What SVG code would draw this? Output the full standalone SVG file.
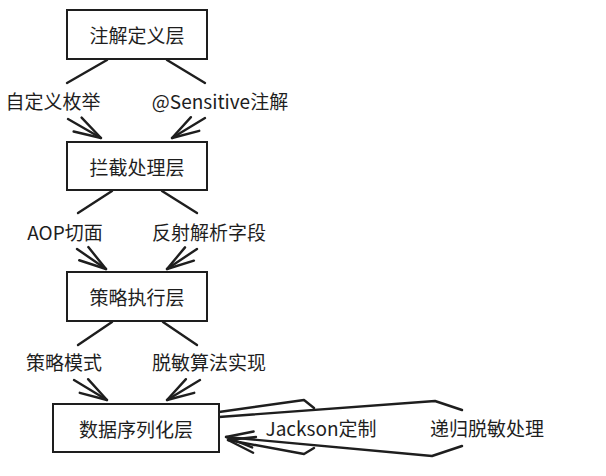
<svg xmlns="http://www.w3.org/2000/svg" width="606" height="476" viewBox="0 0 606 476">
<style>
  .box { fill: #ffffff; stroke: #1e1e1e; stroke-width: 2; }
  .t { font-family: "Noto Sans CJK SC", "Noto Sans", sans-serif; font-size: 19px; fill: #1e1e1e; text-anchor: middle; dominant-baseline: central; }
  .c { fill: none; stroke: #1e1e1e; stroke-width: 2.4; stroke-linecap: round; stroke-linejoin: round; }
</style>
<defs>
  <marker id="ah" viewBox="-32 -14 36 28" refX="0" refY="0" markerWidth="36" markerHeight="28" markerUnits="userSpaceOnUse" orient="auto">
    <path d="M-27,-8 L0,0 L-27,8" fill="none" stroke="#1e1e1e" stroke-width="2.4" stroke-linecap="round" stroke-linejoin="round"/>
  </marker>
</defs>
<rect width="606" height="476" fill="#ffffff"/>
<g id="connectors">
  <path class="c" d="M107,60 L67,83"/>
  <path class="c" d="M68,119 L101,138" marker-end="url(#ah)"/>
  <path class="c" d="M167,60 L205,83"/>
  <path class="c" d="M205,118 L172,138" marker-end="url(#ah)"/>
  <path class="c" d="M112,191 L78,213"/>
  <path class="c" d="M77,249 L106,269" marker-end="url(#ah)"/>
  <path class="c" d="M162,191 L197,213"/>
  <path class="c" d="M197,249 L167,269" marker-end="url(#ah)"/>
  <path class="c" d="M112,322 L78,345"/>
  <path class="c" d="M74,380 L107,400" marker-end="url(#ah)"/>
  <path class="c" d="M163,322 L197,345"/>
  <path class="c" d="M200,380 L167,400" marker-end="url(#ah)"/>
  <path class="c" d="M219,412 L304,400 L314,408"/>
  <path class="c" d="M314,448 L304,454 L228,440" marker-end="url(#ah)"/>
  <path class="c" d="M219,417 L435,401 L462,410"/>
  <path class="c" d="M462,446 L432,456 L226,437" marker-end="url(#ah)"/>
  <text class="t" x="53" y="100">自定义枚举</text>
  <text class="t" x="220" y="100">@Sensitive注解</text>
  <text class="t" x="65" y="231">AOP切面</text>
  <text class="t" x="209" y="231">反射解析字段</text>
  <text class="t" x="64" y="361">策略模式</text>
  <text class="t" x="209" y="361">脱敏算法实现</text>
  <text class="t" x="321" y="427">Jackson定制</text>
  <text class="t" x="487" y="427">递归脱敏处理</text>
</g>
<g id="node-annotation">
  <rect class="box" x="67" y="10" width="140" height="49"/>
  <text class="t" x="137" y="34">注解定义层</text>
</g>
<g id="node-intercept">
  <rect class="box" x="67" y="142" width="140" height="48"/>
  <text class="t" x="137" y="166">拦截处理层</text>
</g>
<g id="node-strategy">
  <rect class="box" x="67" y="272" width="140" height="49"/>
  <text class="t" x="137" y="296">策略执行层</text>
</g>
<g id="node-serialize">
  <rect class="box" x="53" y="404" width="166" height="48"/>
  <text class="t" x="136" y="428">数据序列化层</text>
</g>
</svg>
